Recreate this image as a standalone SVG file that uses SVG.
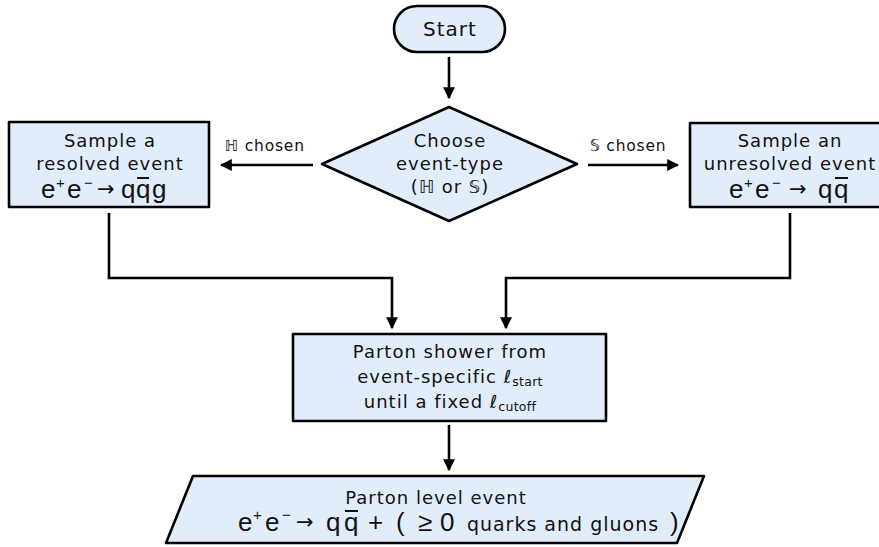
<svg xmlns="http://www.w3.org/2000/svg" width="879" height="547" viewBox="0 0 879 547">
<defs>
<marker id="ah" viewBox="0 0 10 10" refX="9" refY="5" markerWidth="12" markerHeight="12" markerUnits="userSpaceOnUse" orient="auto">
<path d="M0,0 L10,5 L0,10 z" fill="#000"/>
</marker>
<style>
.n{fill:#e2edfb;stroke:#000;stroke-width:2.6;stroke-linejoin:round}
.t{font-family:"DejaVu Sans","Noto Sans",sans-serif;font-size:18px;letter-spacing:1px;fill:#111;text-anchor:middle}
.m{font-family:"Liberation Sans","DejaVu Sans",sans-serif;font-size:26px;fill:#111}
.s{font-size:15px}
.a{font-family:"DejaVu Sans",sans-serif;font-size:21px}
.l{font-family:"DejaVu Sans","Noto Sans",sans-serif;font-size:15.5px;letter-spacing:0.8px;fill:#111}
.c{fill:none;stroke:#000;stroke-width:2.6;marker-end:url(#ah)}
.ob{stroke:#111;stroke-width:2}
.sub{font-size:12.5px;letter-spacing:0.3px}
</style>
</defs>
<rect width="879" height="547" fill="#fff"/>
<g id="connectors">
<line class="c" x1="449" y1="57" x2="449" y2="98"/>
<line class="c" x1="313" y1="165" x2="221" y2="165"/>
<line class="c" x1="588" y1="165" x2="678" y2="165"/>
<polyline class="c" points="109,213 109,278 392,278 392,328"/>
<polyline class="c" points="790,213 790,278 506,278 506,328"/>
<line class="c" x1="449" y1="425" x2="449" y2="470"/>
<text class="l" x="225" y="151">ℍ chosen</text>
<text class="l" x="590" y="151">𝕊 chosen</text>
</g>
<g id="start">
<rect class="n" x="394" y="6" width="111" height="46" rx="23"/>
<text class="t" x="450" y="36" style="font-size:20px">Start</text>
</g>
<g id="choose">
<polygon class="n" points="449,107 577,164 449,221 322,164"/>
<text class="t" x="450" y="147">Choose</text>
<text class="t" x="450" y="170">event-type</text>
<text class="t" x="450" y="193">(ℍ or 𝕊)</text>
</g>
<g id="resolved">
<rect class="n" x="9" y="122" width="200" height="85"/>
<text class="t" x="110" y="147">Sample a</text>
<text class="t" x="110" y="170">resolved event</text>
<text class="m"><tspan x="41" y="198">e</tspan><tspan class="s" x="56" y="188">+</tspan><tspan x="67" y="198">e</tspan><tspan class="s" x="84" y="188">−</tspan><tspan class="a" x="97" y="196">→</tspan><tspan x="121" y="198">q</tspan><tspan x="136" y="198">q</tspan><tspan x="152" y="198">g</tspan></text>
<line class="ob" x1="137" y1="178" x2="149" y2="178"/>
</g>
<g id="unresolved">
<rect class="n" x="690" y="123" width="200" height="84"/>
<text class="t" x="790" y="147">Sample an</text>
<text class="t" x="790" y="170">unresolved event</text>
<text class="m"><tspan x="729" y="198">e</tspan><tspan class="s" x="744" y="188">+</tspan><tspan x="755" y="198">e</tspan><tspan class="s" x="772" y="188">−</tspan><tspan class="a" x="789" y="196">→</tspan><tspan x="818" y="198">q</tspan><tspan x="834" y="198">q</tspan></text>
<line class="ob" x1="835" y1="178" x2="848" y2="178"/>
</g>
<g id="shower">
<rect class="n" x="293" y="334" width="313" height="87"/>
<text class="t" x="450" y="358">Parton shower from</text>
<text class="t" x="450" y="383">event-specific ℓ<tspan class="sub" dy="3">start</tspan></text>
<text class="t" x="450" y="408">until a fixed ℓ<tspan class="sub" dy="3">cutoff</tspan></text>
</g>
<g id="result">
<polygon class="n" points="193,476 704,476 677,543 166,543"/>
<text class="t" x="436" y="504">Parton level event</text>
<text class="m"><tspan x="238" y="531">e</tspan><tspan class="s" x="253" y="520">+</tspan><tspan x="265" y="531">e</tspan><tspan class="s" x="282" y="520">−</tspan><tspan class="a" x="296" y="529">→</tspan><tspan x="326" y="531">q</tspan><tspan x="344" y="531">q</tspan><tspan x="368" y="531">+</tspan><tspan x="396" y="531">(</tspan><tspan x="418" y="531">≥</tspan><tspan x="440" y="531">0</tspan><tspan x="670" y="531">)</tspan></text>
<line class="ob" x1="345" y1="511" x2="358" y2="511"/>
<text class="t" x="563" y="531" style="font-size:19px">quarks and gluons</text>
</g>
</svg>
